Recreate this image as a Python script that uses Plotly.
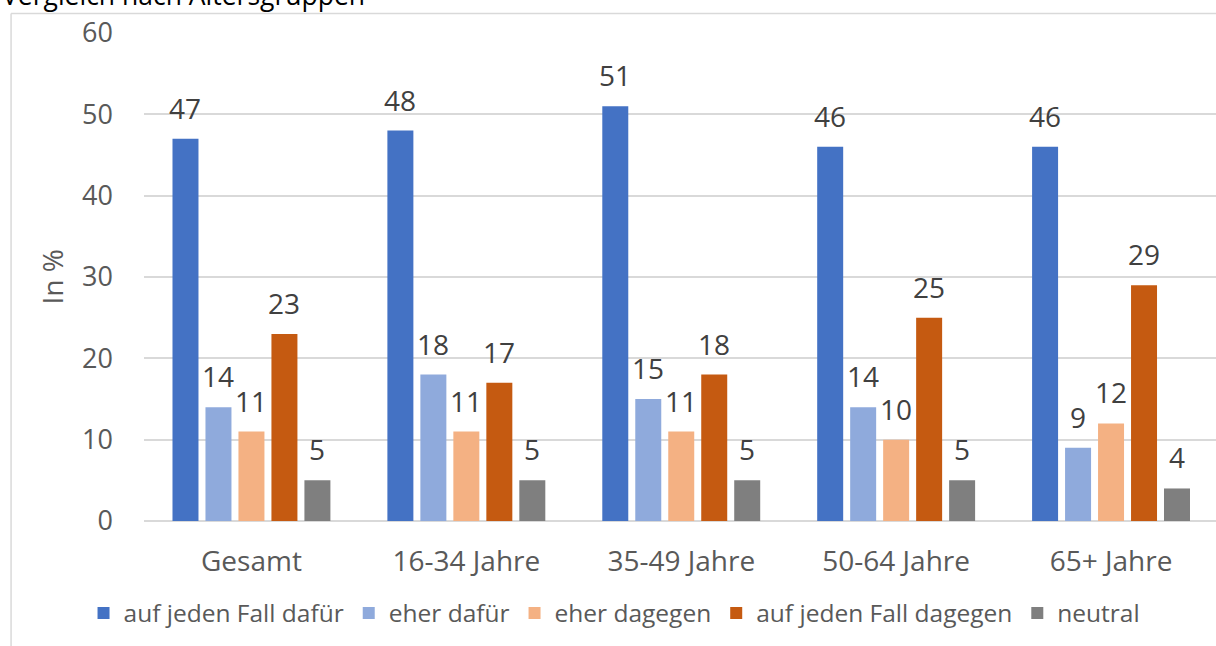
import plotly.graph_objects as go

# Umfragewerte in Prozent je Altersgruppe
categories = ["Gesamt", "16-34 Jahre", "35-49 Jahre", "50-64 Jahre", "65+ Jahre"]
series_names = ["auf jeden Fall dafür", "eher dafür", "eher dagegen",
                "auf jeden Fall dagegen", "neutral"]
auf_jeden_fall_dafuer = [47, 48, 51, 46, 46]
eher_dafuer = [14, 18, 15, 14, 9]
eher_dagegen = [11, 11, 11, 10, 12]
auf_jeden_fall_dagegen = [23, 17, 18, 25, 29]
neutral = [5, 5, 5, 5, 4]
y_ticks = [0, 10, 20, 30, 40, 50, 60]

series_values = [auf_jeden_fall_dafuer, eher_dafuer, eher_dagegen,
                 auf_jeden_fall_dagegen, neutral]
colors = ["#4472C4", "#8FAADC", "#F4B183", "#C55A11", "#7F7F7F"]

FONT = "Open Sans"
W, H = 1216, 646
ML, MT, MB = 143.5, 33, 125
plot_w = W - ML
plot_h = H - MT - MB


def px_x(px):
    return (px - ML) / plot_w


def px_y(py):
    return (H - MB - py) / plot_h


fig = go.Figure()
for name, vals, col in zip(series_names, series_values, colors):
    fig.add_trace(go.Bar(
        name=name, x=categories, y=vals,
        marker=dict(color=col, line=dict(width=0)),
    ))

# Wertbeschriftungen über den Balken
bar_pitch = 33
annotations = []
for k, vals in enumerate(series_values):
    for cat, v in zip(categories, vals):
        annotations.append(dict(
            x=cat, y=v, xref="x", yref="y", text=str(v), showarrow=False,
            xshift=(k - 2) * bar_pitch, yshift=10, yanchor="bottom",
            font=dict(family=FONT, size=28, color="#404040"),
        ))

# Achsentitel
annotations.append(dict(
    x=px_x(51), y=px_y(277), xref="paper", yref="paper", text="In %",
    textangle=-90, showarrow=False, xanchor="center", yanchor="middle",
    font=dict(family=FONT, size=28, color="#595959"),
))
# Überschrift (oberhalb des Diagrammrahmens)
annotations.append(dict(
    x=px_x(-1), y=px_y(15), xref="paper", yref="paper",
    text="Vergleich nach Altersgruppen", showarrow=False,
    xanchor="left", yanchor="bottom",
    font=dict(family=FONT, size=26.5, color="#000000"),
))

shapes = [
    dict(type="line", xref="paper", yref="paper",
         x0=px_x(10.5), x1=px_x(1230), y0=px_y(13.5), y1=px_y(13.5),
         line=dict(color="#D9D9D9", width=1.5)),
    dict(type="line", xref="paper", yref="paper",
         x0=px_x(10.5), x1=px_x(10.5), y0=px_y(13.5), y1=px_y(660),
         line=dict(color="#D9D9D9", width=1.5)),
]

fig.update_layout(
    width=W, height=H,
    margin=dict(l=ML, r=0, t=MT, b=MB, pad=0, autoexpand=False),
    paper_bgcolor="white", plot_bgcolor="white",
    barmode="group", bargap=0.2326, bargroupgap=0.212,
    font=dict(family=FONT, color="#595959"),
    showlegend=True,
    legend=dict(
        orientation="h", x=px_x(83), y=px_y(613),
        xanchor="left", yanchor="middle",
        font=dict(family=FONT, size=24.5, color="#595959"),
        itemclick=False, bgcolor="rgba(0,0,0,0)",
    ),
    annotations=annotations,
    shapes=shapes,
)
fig.update_xaxes(
    range=[-0.5, 4.5 - 2.5 / 215], showgrid=False, showline=False,
    ticks="", tickfont=dict(family=FONT, size=28, color="#595959"),
    ticklabelstandoff=21,
)
fig.update_yaxes(
    range=[0, 60], tickvals=y_ticks, showgrid=True,
    gridcolor="#D9D9D9", gridwidth=1.5, zeroline=True,
    zerolinecolor="#D9D9D9", zerolinewidth=1.5, showline=False, ticks="",
    tickfont=dict(family=FONT, size=27, color="#595959"),
    ticklabelstandoff=30,
)

fig.write_html("out.html")
